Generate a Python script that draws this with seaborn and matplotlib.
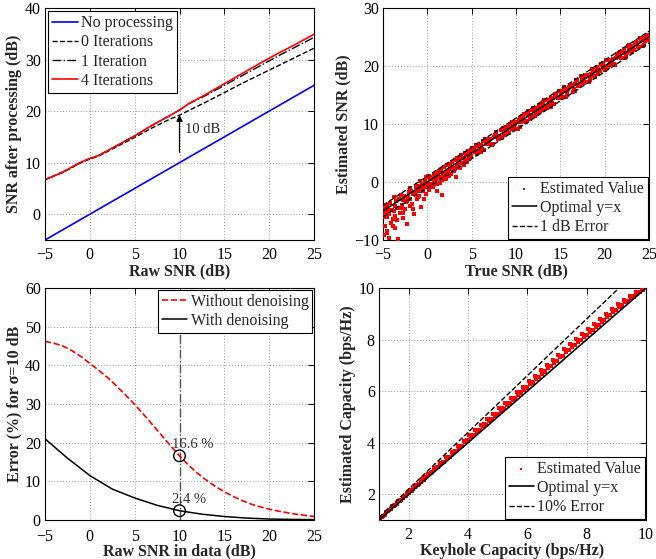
import numpy as np
import pandas as pd
import matplotlib
matplotlib.use('Agg')
import matplotlib.pyplot as plt
import seaborn as sns

# ---- data: top-left (SNR after processing) ----
raw_snr = [-5, -3, -1, 0, 1, 3, 5, 7, 9, 10, 11, 13, 15, 17, 19, 21, 23, 25]
no_proc = [-5, -3, -1, 0, 1, 3, 5, 7, 9, 10, 11, 13, 15, 17, 19, 21, 23, 25]
iter0 = [6.7, 8.1, 10.0, 10.7, 11.3, 13.1, 14.9, 16.8, 18.5, 19.2, 20.1, 21.8, 23.6, 25.4, 27.1, 28.8, 30.5, 32.2]
iter1 = [6.7, 8.2, 10.1, 10.8, 11.4, 13.3, 15.2, 17.3, 19.2, 20.2, 21.4, 23.1, 25.0, 26.9, 28.8, 30.7, 32.5, 34.3]
iter4 = [6.7, 8.2, 10.1, 10.8, 11.4, 13.3, 15.2, 17.3, 19.2, 20.2, 21.4, 23.3, 25.3, 27.3, 29.3, 31.2, 33.0, 34.9]

# ---- data: top-right (estimated vs true SNR) ----
true_snr = [-5.0, -4.9, -4.8, -4.8, -4.7, -4.6, -4.6, -4.5, -4.4, -4.3, -4.3, -4.2, -4.1, -4.0, -3.9,
            -3.8, -3.8, -3.7, -3.6, -3.5, -3.4, -3.3, -3.3, -3.2, -3.1, -3.0, -2.9, -2.8, -2.7, -2.6,
            -2.5, -2.4, -2.3, -2.2, -2.1, -2.0, -1.9, -1.8, -1.7, -1.6, -1.5, -1.4, -1.3, -1.2, -1.1,
            -1.0, -0.9, -0.8, -0.7, -0.6, -0.5, -0.4, -0.3, -0.2, -0.1, 0.0, 0.1, 0.2, 0.3,
            -4.95, -4.5, -3.9, -3.6, -3.0, -2.7, -2.3, -1.9, -1.6, -1.1, -0.8, -0.4, -0.1,
            0.4, 0.5, 0.6, 0.7, 0.8, 0.9, 1.0, 1.1, 1.2, 1.3, 1.4, 1.5, 1.6, 1.7, 1.8, 1.9, 2.0,
            2.1, 2.2, 2.3, 2.4, 2.5, 2.6, 2.7, 2.8, 2.9, 3.0, 3.1, 3.2, 3.3, 3.4, 3.5, 3.6, 3.7,
            3.8, 3.9, 4.0, 4.1, 4.2, 4.3, 4.4, 4.5, 4.6, 4.7, 4.8, 4.9, 5.0,
            0.15, 0.45, 0.75, 1.05, 1.35, 1.65, 1.95, 2.25, 2.55, 2.85, 3.15, 3.45, 3.75, 4.05,
            4.35, 4.65, 4.95,
            5.3, 5.6, 5.9, 6.2, 6.5, 6.8, 7.1, 7.4, 7.7, 8.0, 8.3, 8.6, 8.9, 9.2, 9.5, 9.8,
            10.1, 10.4, 10.7, 11.0, 11.3, 11.6, 11.9, 12.2, 12.5, 12.8, 13.1, 13.4, 13.7, 14.0,
            14.3, 14.6, 14.9, 15.2, 15.5, 15.8, 16.1, 16.4, 16.7, 17.0, 17.3, 17.6, 17.9, 18.2,
            18.5, 18.8, 19.1, 19.4, 19.7, 20.0, 20.3, 20.6, 20.9, 21.2, 21.5, 21.8, 22.1, 22.4,
            22.7, 23.0, 23.3, 23.6, 23.9, 24.2, 24.5, 24.8,
            5.4, 5.7, 6.0, 6.3, 6.6, 6.9, 7.2, 7.5, 7.8, 8.1, 8.4, 8.7, 9.0, 9.3, 9.6, 9.9,
            10.2, 10.5, 10.8, 11.1, 11.4, 11.7, 12.0, 12.3, 12.6, 12.9, 13.2, 13.5, 13.8, 14.1,
            14.4, 14.7, 15.0, 15.3, 15.6, 15.9, 16.2, 16.5, 16.8, 17.1, 17.4, 17.7, 18.0, 18.3,
            18.6, 18.9, 19.2, 19.5, 19.8, 20.1, 20.4, 20.7, 21.0, 21.3, 21.6, 21.9, 22.2, 22.5,
            22.8, 23.1, 23.4, 23.7, 24.0, 24.3, 24.6, 24.9,
            5.5, 5.8, 6.1, 6.4, 6.7, 7.0, 7.3, 7.6, 7.9, 8.2, 8.5, 8.8, 9.1, 9.4, 9.7, 10.0,
            10.3, 10.6, 10.9, 11.2, 11.5, 11.8, 12.1, 12.4, 12.7, 13.0, 13.3, 13.6, 13.9, 14.2,
            14.5, 14.8, 15.1, 15.4, 15.7, 16.0, 16.3, 16.6, 16.9, 17.2, 17.5, 17.8, 18.1, 18.4,
            18.7, 19.0, 19.3, 19.6, 19.9, 20.2, 20.5, 20.8, 21.1, 21.4, 21.7, 22.0, 22.3, 22.6,
            22.9, 23.2, 23.5, 23.8, 24.1, 24.4, 24.7, 25.0]
est_snr = [-6.1, -9.2, -4.3, -7.5, -5.2, -8.4, -3.9, -6.0, -4.8, -9.6, -5.5, -3.6, -7.1, -4.9, -6.3,
           -2.6, -5.0, -8.0, -4.1, -3.3, -6.6, -9.8, -4.4, -3.0, -5.4, -2.2, -4.0, -6.2, -3.1, -2.4,
           -4.7, -3.5, -7.2, -2.6, -1.8, -4.2, -2.9, -1.5, -3.8, -2.1, -5.6, -1.9, -0.9, -3.0, -1.6,
           -0.7, -2.4, -1.2, -4.3, -0.4, -1.5, -0.9, 0.2, -2.0, -0.6, -0.3, 1.1, -1.3, 0.5,
           -5.4, -8.8, -7.6, -5.8, -4.5, -5.3, -3.3, -1.1, -4.6, -2.5, 0.1, -2.9, 0.8,
           -0.4, 0.9, -0.9, 0.3, 1.4, -0.2, 0.6, -1.6, 1.5, 0.8, -0.1, 2.0, 0.9, -2.3, 1.3, 2.6, 1.5,
           0.6, 2.9, 1.8, 1.0, 3.1, 2.2, 1.3, 3.5, 2.4, 1.9, 3.8, 0.8, 3.0, 4.1, 2.9, 3.7, 2.4,
           4.6, 3.3, 4.2, 2.9, 5.0, 3.8, 4.6, 3.5, 5.4, 4.1, 5.2, 4.4, 5.9,
           0.9, -0.8, 1.2, -0.3, 1.9, 0.4, 1.2, 3.0, 1.4, 2.1, 2.3, 3.1, 4.3, 3.3,
           5.0, 4.0, 5.6,
           5.9, 4.8, 6.1, 5.7, 7.4, 6.6, 7.5, 6.5, 7.8, 7.4, 9.0, 8.3, 9.4, 8.5, 10.3, 9.7,
           10.4, 9.4, 11.3, 10.6, 11.5, 10.8, 12.8, 12.2, 12.0, 13.2, 12.4, 14.1, 13.5, 14.5,
           13.4, 14.7, 15.7, 14.6, 15.8, 15.5, 16.7, 15.6, 16.9, 16.5, 18.2, 17.5, 18.3, 17.3,
           18.6, 18.2, 19.8, 19.1, 20.2, 19.3, 21.1, 20.4, 21.2, 20.2, 22.1, 21.4, 22.3, 21.6,
           23.6, 23.0, 22.8, 24.0, 23.2, 24.9, 24.3, 25.3,
           5.1, 6.2, 5.1, 7.1, 6.5, 7.5, 6.6, 7.7, 8.7, 7.7, 7.6, 9.1, 8.8, 10.0, 9.1, 10.0,
           9.2, 11.1, 11.1, 10.4, 12.2, 11.4, 12.2, 11.7, 13.1, 12.8, 14.1, 12.7, 14.1, 13.7,
           15.1, 14.5, 14.4, 15.7, 14.7, 16.0, 16.8, 16.0, 17.6, 16.8, 17.6, 17.0, 18.5, 18.2,
           19.5, 18.1, 19.5, 19.1, 20.5, 19.9, 19.8, 21.1, 20.1, 21.4, 22.2, 21.4, 23.0, 22.2,
           23.0, 22.4, 23.9, 23.6, 24.9, 23.5, 24.9, 24.5,
           6.4, 5.3, 6.4, 5.6, 7.3, 6.8, 6.4, 8.1, 8.0, 7.8, 9.3, 8.1, 9.3, 9.3, 10.4, 9.1,
           10.7, 10.3, 11.8, 10.6, 11.6, 12.4, 11.3, 12.7, 12.2, 13.8, 13.1, 14.1, 12.9, 14.4,
           15.2, 14.4, 15.0, 16.3, 15.0, 16.4, 16.5, 15.7, 17.5, 16.9, 18.3, 17.3, 18.2, 17.6,
           19.2, 19.3, 18.7, 20.3, 19.7, 21.1, 20.1, 20.9, 20.4, 22.0, 21.6, 22.4, 21.4, 23.4,
           22.6, 23.4, 24.1, 23.3, 24.4, 23.6, 25.2, 24.8]
ref_snr = [-5, 25]
ref_opt = [-5, 25]
ref_up = [-4, 26]
ref_lo = [-6, 24]

# ---- data: bottom-left (error vs raw SNR) ----
raw_snr_red = [-5, -4, -3, -2, -1, 0, 1, 2, 3, 4, 5, 6, 7, 8, 9, 10, 11, 12, 13, 14, 15,
               16, 17, 18, 19, 20, 21, 22, 23, 24, 25]
err_without = [46.2, 45.7, 45.0, 43.8, 42.3, 40.5, 38.7, 36.8, 34.6, 32.3, 29.9, 27.3, 24.6,
               21.9, 19.2, 16.6, 14.2, 12.1, 10.3, 8.7, 7.3, 6.1, 5.0, 4.1, 3.4, 2.8, 2.3, 1.9,
               1.5, 1.2, 0.9]
raw_snr_blk = [-5, -2.5, 0, 2.5, 5, 7.5, 10, 12.5, 15, 17.5, 20, 22.5, 25]
err_with = [21.0, 16.0, 11.5, 8.0, 5.7, 3.8, 2.4, 1.5, 0.9, 0.5, 0.25, 0.15, 0.1]
mark_x = [10, 10]
mark_y = [16.6, 2.4]
mark_txt = ['16.6 %', '2.4 %']

# ---- data: bottom-right (capacity) ----
keyhole_cap = [1.0, 1.1, 1.2, 1.3, 1.4, 1.5, 1.6, 1.7, 1.8, 1.9, 2.0, 2.1, 2.2, 2.3, 2.4, 2.5,
               2.6, 2.7, 2.8, 2.9, 3.0, 3.1, 3.2, 3.3, 3.4, 3.5, 3.6, 3.7, 3.8, 3.9, 4.0, 4.1,
               4.2, 4.3, 4.4, 4.5, 4.6, 4.7, 4.8, 4.9, 5.0, 5.1, 5.2, 5.3, 5.4, 5.5, 5.6, 5.7,
               5.8, 5.9, 6.0, 6.1, 6.2, 6.3, 6.4, 6.5, 6.6, 6.7, 6.8, 6.9, 7.0, 7.1, 7.2, 7.3,
               7.4, 7.5, 7.6, 7.7, 7.8, 7.9, 8.0, 8.1, 8.2, 8.3, 8.4, 8.5, 8.6, 8.7, 8.8, 8.9,
               9.0, 9.1, 9.2, 9.3, 9.4, 9.5, 9.6, 9.7, 9.8, 9.9,
               1.05, 1.15, 1.25, 1.35, 1.45, 1.55, 1.65, 1.75, 1.85, 1.95,
               2.05, 2.15, 2.25, 2.35, 2.45, 2.55, 2.65, 2.75, 2.85, 2.95,
               3.05, 3.15, 3.25, 3.35, 3.45, 3.55, 3.65, 3.75, 3.85, 3.95,
               4.05, 4.15, 4.25, 4.35, 4.45, 4.55, 4.65, 4.75, 4.85, 4.95,
               5.05, 5.15, 5.25, 5.35, 5.45, 5.55, 5.65, 5.75, 5.85, 5.95,
               6.05, 6.15, 6.25, 6.35, 6.45, 6.55, 6.65, 6.75, 6.85, 6.95,
               7.05, 7.15, 7.25, 7.35, 7.45, 7.55, 7.65, 7.75, 7.85, 7.95,
               8.05, 8.15, 8.25, 8.35, 8.45, 8.55, 8.65, 8.75, 8.85, 8.95,
               9.05, 9.15, 9.25, 9.35, 9.45, 9.55, 9.65, 9.75, 9.85]
est_cap = [1.00, 1.13, 1.21, 1.34, 1.42, 1.55, 1.63, 1.74, 1.85, 1.93, 2.06, 2.13, 2.27, 2.34, 2.46, 2.57,
           2.65, 2.78, 2.86, 2.99, 3.05, 3.18, 3.25, 3.39, 3.46, 3.60, 3.67, 3.79, 3.88, 4.01, 4.07, 4.21,
           4.28, 4.40, 4.49, 4.63, 4.70, 4.83, 4.90, 5.04, 5.10, 5.24, 5.30, 5.45, 5.52, 5.64, 5.71, 5.86,
           5.93, 6.06, 6.12, 6.27, 6.33, 6.48, 6.55, 6.68, 6.75, 6.90, 6.96, 7.10, 7.15, 7.32, 7.36, 7.50,
           7.58, 7.71, 7.77, 7.92, 7.97, 8.10, 8.16, 8.31, 8.36, 8.50, 8.57, 8.70, 8.76, 8.89, 8.95, 9.07,
           9.13, 9.26, 9.31, 9.44, 9.49, 9.62, 9.67, 9.78, 9.85, 9.93,
           1.09, 1.16, 1.31, 1.37, 1.53, 1.58, 1.74, 1.79, 1.95, 1.99,
           2.16, 2.20, 2.37, 2.41, 2.58, 2.62, 2.80, 2.83, 3.00, 3.04,
           3.22, 3.25, 3.44, 3.46, 3.65, 3.67, 3.86, 3.88, 4.07, 4.09,
           4.28, 4.29, 4.49, 4.50, 4.70, 4.71, 4.91, 4.92, 5.12, 5.12,
           5.33, 5.33, 5.54, 5.54, 5.75, 5.75, 5.96, 5.95, 6.17, 6.15,
           6.38, 6.36, 6.59, 6.56, 6.80, 6.77, 7.00, 6.97, 7.21, 7.17,
           7.42, 7.37, 7.62, 7.58, 7.82, 7.78, 8.02, 7.98, 8.21, 8.18,
           8.41, 8.38, 8.60, 8.57, 8.79, 8.77, 8.98, 8.96, 9.17, 9.15,
           9.36, 9.33, 9.54, 9.51, 9.70, 9.68, 9.84, 9.83, 9.92]
cap_opt_x = [1, 10]
cap_opt_y = [1, 10]
cap_err_x = [1, 9.09]
cap_err_y = [1.1, 10]

sns.set_style('white')
plt.rcParams['font.family'] = ['Liberation Serif', 'DejaVu Serif']
fs = 11.5

fig = plt.figure(figsize=(6.56, 5.59), dpi=100)
W, H = 656, 559


def make_ax(l, r, t, b):
    return fig.add_axes([l / W, (H - b) / H, (r - l) / W, (b - t) / H])


def style(ax, xpad=5):
    ax.tick_params(direction='in', top=True, right=True, length=4, width=0.7,
                   labelsize=fs, colors='black', pad=3)
    ax.tick_params(axis='x', pad=xpad)
    ax.grid(True, linestyle=(0, (1, 2)), color='#9a9a9a', linewidth=0.7)
    for s in ax.spines.values():
        s.set_color('black')
        s.set_linewidth(0.8)
        s.set_visible(True)


def legend(ax, loc, pad):
    lg = ax.legend(loc=loc, fontsize=fs, frameon=True, fancybox=False, framealpha=1,
                   edgecolor='black', borderpad=0.25, labelspacing=0.2, handlelength=1.6,
                   handletextpad=0.2, borderaxespad=pad)
    lg.get_frame().set_linewidth(0.8)
    return lg


# top-left
ax1 = make_ax(45, 314, 8, 240)
sns.lineplot(x=raw_snr, y=no_proc, ax=ax1, color='#0000ff', lw=1.2, label='No processing')
sns.lineplot(x=raw_snr, y=iter0, ax=ax1, color='black', lw=1.0, linestyle='--', label='0 Iterations')
sns.lineplot(x=raw_snr, y=iter1, ax=ax1, color='black', lw=1.0, linestyle='-.', label='1 Iteration')
sns.lineplot(x=raw_snr, y=iter4, ax=ax1, color='#ff0000', lw=1.2, label='4 Iterations')
ax1.annotate('', xy=(10, 19.8), xytext=(10, 11.5),
             arrowprops=dict(arrowstyle='-|>', color='black', lw=0.9, mutation_scale=9))
ax1.text(10.6, 16.5, '10 dB', fontsize=10.5, va='center', ha='left')
ax1.set_xlim(-5, 25)
ax1.set_ylim(-5, 40)
ax1.set_xticks(range(-5, 26, 5))
ax1.set_yticks(range(0, 41, 10))
ax1.set_xlabel('Raw SNR (dB)', fontsize=fs, fontweight='bold', labelpad=0)
ax1.set_ylabel('SNR after processing (dB)', fontsize=fs, fontweight='bold', labelpad=2)
style(ax1)
legend(ax1, 'upper left', 0.2)

# top-right
ax2 = make_ax(383, 649, 8, 240)
sns.scatterplot(x=true_snr, y=est_snr, ax=ax2, color='#ff0000', marker='s', s=6,
                linewidth=0, label='Estimated Value', zorder=3)
sns.lineplot(x=ref_snr, y=ref_opt, ax=ax2, color='black', lw=1.1, label='Optimal y=x', zorder=4)
sns.lineplot(x=ref_snr, y=ref_up, ax=ax2, color='black', lw=1.0, linestyle='--', label='1 dB Error', zorder=4)
sns.lineplot(x=ref_snr, y=ref_lo, ax=ax2, color='black', lw=1.0, linestyle='--', zorder=4)
ax2.set_xlim(-5, 25)
ax2.set_ylim(-10, 30)
ax2.set_xticks(range(-5, 26, 5))
ax2.set_yticks(range(-10, 31, 10))
ax2.set_xlabel('True SNR (dB)', fontsize=fs, fontweight='bold', labelpad=0)
ax2.set_ylabel('Estimated SNR (dB)', fontsize=fs, fontweight='bold', labelpad=2)
style(ax2)
lg2 = legend(ax2, 'lower right', 0.05)
lg2.legend_handles[0].set_sizes([4])

# bottom-left
ax3 = make_ax(45, 314, 288, 520)
ax3.plot([10, 10], [0, 60], color='#555555', lw=1.0, linestyle='-.', zorder=2)
sns.lineplot(x=raw_snr_red, y=err_without, ax=ax3, color='#ff0000', lw=1.2, linestyle='--',
             label='Without denoising')
sns.lineplot(x=raw_snr_blk, y=err_with, ax=ax3, color='black', lw=1.1, label='With denoising')
ax3.scatter(mark_x, mark_y, s=70, facecolors='none', edgecolors='black', linewidths=1.0, zorder=5)
for yy, tt in zip(mark_y, mark_txt):
    ax3.text(9.2, yy + 2.8, tt, fontsize=10.5, va='center', ha='left', color='#333333')
ax3.set_xlim(-5, 25)
ax3.set_ylim(0, 60)
ax3.set_xticks(range(-5, 26, 5))
ax3.set_yticks(range(0, 61, 10))
ax3.set_xlabel('Raw SNR in data (dB)', fontsize=fs, fontweight='bold', labelpad=-1)
ax3.set_ylabel('Error (%) for σ=10 dB', fontsize=fs, fontweight='bold', labelpad=2)
style(ax3, xpad=6.5)
legend(ax3, 'upper right', 0.1)

# bottom-right
ax4 = make_ax(379, 646, 288, 520)
sns.scatterplot(x=keyhole_cap, y=est_cap, ax=ax4, color='#ff0000', marker='s', s=5,
                linewidth=0, label='Estimated Value', zorder=3)
sns.lineplot(x=cap_opt_x, y=cap_opt_y, ax=ax4, color='black', lw=1.2, label='Optimal y=x', zorder=4)
sns.lineplot(x=cap_err_x, y=cap_err_y, ax=ax4, color='black', lw=1.0, linestyle='--', label='10% Error', zorder=4)
ax4.set_xlim(1, 10)
ax4.set_ylim(1, 10)
ax4.set_xticks([2, 4, 6, 8, 10])
ax4.set_yticks([2, 4, 6, 8, 10])
ax4.set_xlabel('Keyhole Capacity (bps/Hz)', fontsize=fs, fontweight='bold', labelpad=0)
ax4.set_ylabel('Estimated Capacity (bps/Hz)', fontsize=fs, fontweight='bold', labelpad=2)
style(ax4)
lg4 = legend(ax4, 'lower right', 0.05)
lg4.legend_handles[0].set_sizes([4])

fig.savefig('out.png', dpi=100)
